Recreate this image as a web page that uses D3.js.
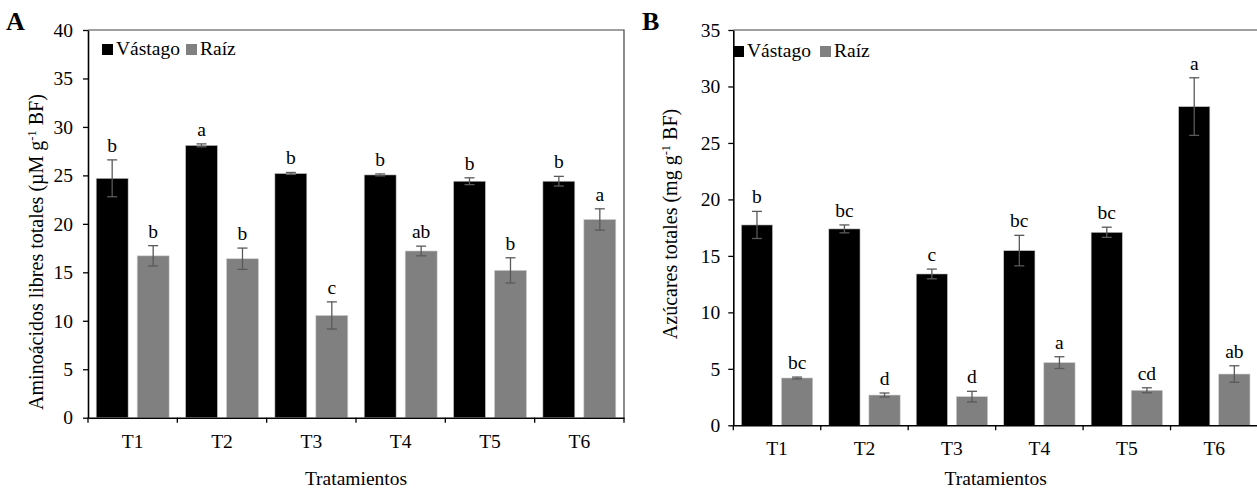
<!DOCTYPE html>
<html>
<head>
<meta charset="utf-8">
<script src="https://cdn.jsdelivr.net/npm/d3@7"></script>
<style>
  html, body { margin: 0; padding: 0; background: #fff; }
  svg { display: block; }
  text { font-family: "Liberation Serif", "Times New Roman", serif; fill: #000; }
</style>
</head>
<body>
<svg id="chart" width="1257" height="491"></svg>
<script>
const categories = ["T1", "T2", "T3", "T4", "T5", "T6"];
const seriesNames = ["Vástago", "Raíz"];
const seriesColors = ["#000000", "#808080"];

// Panel A: aminoácidos libres totales
const aminoShoot = [24.7, 28.1, 25.2, 25.05, 24.4, 24.4];
const aminoShootErr = [1.9, 0.15, 0.1, 0.1, 0.35, 0.5];
const aminoRoot = [16.7, 16.4, 10.55, 17.2, 15.2, 20.45];
const aminoRootErr = [1.05, 1.1, 1.4, 0.5, 1.3, 1.1];
const aminoShootLetters = ["b", "a", "b", "b", "b", "b"];
const aminoRootLetters = ["b", "b", "c", "ab", "b", "a"];
const aminoTicks = [0, 5, 10, 15, 20, 25, 30, 35, 40];

// Panel B: azúcares totales
const sugarShoot = [17.74, 17.39, 13.4, 15.47, 17.09, 28.22];
const sugarShootErr = [1.2, 0.35, 0.43, 1.35, 0.45, 2.55];
const sugarRoot = [4.19, 2.68, 2.54, 5.55, 3.1, 4.54];
const sugarRootErr = [0.08, 0.18, 0.47, 0.52, 0.22, 0.73];
const sugarShootLetters = ["b", "bc", "c", "bc", "bc", "a"];
const sugarRootLetters = ["bc", "d", "d", "a", "cd", "ab"];
const sugarTicks = [0, 5, 10, 15, 20, 25, 30, 35];

const svg = d3.select("#chart");
const FS = 19.5;
const FONT = "Liberation Serif, Times New Roman, serif";

function drawPanel(cfg) {
  const g = svg.append("g");
  const x = d3.scaleBand().domain(categories).range([cfg.left, cfg.right]).padding(0);
  const xs = d3.scaleBand().domain(seriesNames).range([0, x.bandwidth()])
    .paddingInner(0.22).paddingOuter(0.2);
  const y = d3.scaleLinear().domain([0, cfg.max]).range([cfg.bottom, cfg.top]);

  // frame (top & right)
  g.append("path")
    .attr("d", `M${cfg.left},${cfg.top}H${cfg.right}V${cfg.bottom}`)
    .attr("fill", "none").attr("stroke", "#404040").attr("stroke-width", 1.2);

  const series = [
    { name: seriesNames[0], vals: cfg.shoot, errs: cfg.shootErr, letters: cfg.shootLetters, color: seriesColors[0] },
    { name: seriesNames[1], vals: cfg.root, errs: cfg.rootErr, letters: cfg.rootLetters, color: seriesColors[1] }
  ];

  series.forEach(s => {
    const data = categories.map((c, i) => ({ c, v: s.vals[i], e: s.errs[i], l: s.letters[i] }));
    const cx = d => x(d.c) + xs(s.name) + xs.bandwidth() / 2;
    g.selectAll(null).data(data).join("rect")
      .attr("x", d => x(d.c) + xs(s.name))
      .attr("width", xs.bandwidth())
      .attr("y", d => y(d.v))
      .attr("height", d => y(0) - y(d.v))
      .attr("fill", s.color)
      .attr("stroke", "#d0d0d0").attr("stroke-width", 0.6);
    // error bars
    const eb = g.selectAll(null).data(data).join("g").attr("stroke", "#595959").attr("stroke-width", 1.3);
    eb.append("line").attr("x1", cx).attr("x2", cx).attr("y1", d => y(d.v + d.e)).attr("y2", d => y(d.v - d.e));
    eb.append("line").attr("x1", d => cx(d) - 5).attr("x2", d => cx(d) + 5).attr("y1", d => y(d.v + d.e)).attr("y2", d => y(d.v + d.e));
    eb.append("line").attr("x1", d => cx(d) - 5).attr("x2", d => cx(d) + 5).attr("y1", d => y(d.v - d.e)).attr("y2", d => y(d.v - d.e));
    // letters
    g.selectAll(null).data(data).join("text")
      .attr("x", cx).attr("y", d => y(d.v + d.e) - 8)
      .attr("text-anchor", "middle").attr("font-size", FS)
      .text(d => d.l);
  });

  // y axis
  const ya = g.append("g").attr("transform", `translate(${cfg.left},0)`)
    .call(d3.axisLeft(y).tickValues(cfg.ticks).tickSize(5).tickPadding(cfg.yPad).tickSizeOuter(0));
  ya.select(".domain").attr("stroke", "#000").attr("stroke-width", 1.6);
  ya.selectAll(".tick line").attr("stroke", "#000").attr("stroke-width", 1.3);
  ya.selectAll("text").attr("font-size", FS).attr("font-family", FONT);

  // x axis
  const xa = g.append("g").attr("transform", `translate(0,${cfg.bottom})`)
    .call(d3.axisBottom(x).tickSize(0).tickPadding(16).tickSizeOuter(0));
  xa.select(".domain").attr("stroke", "#000").attr("stroke-width", 1.6);
  xa.selectAll("text").attr("font-size", FS).attr("font-family", FONT);
  const bounds = categories.map(c => x(c)).concat([x(categories[categories.length - 1]) + x.bandwidth()]);
  g.selectAll(null).data(bounds).join("line")
    .attr("x1", d => d).attr("x2", d => d)
    .attr("y1", cfg.bottom).attr("y2", cfg.bottom + 5)
    .attr("stroke", "#000").attr("stroke-width", 1.3);

  // x title
  g.append("text").attr("x", (cfg.left + cfg.right) / 2).attr("y", 485)
    .attr("text-anchor", "middle").attr("font-size", FS).text("Tratamientos");
  // y title
  const yt = g.append("text")
    .attr("transform", `translate(${cfg.ytX},${cfg.ytY}) rotate(-90)`)
    .attr("text-anchor", "middle").attr("font-size", 20);
  yt.append("tspan").text(cfg.yTitle[0]);
  yt.append("tspan").attr("font-size", 12.5).attr("dy", -7).text("-1");
  yt.append("tspan").attr("dy", 7).text(cfg.yTitle[1]);

  // panel label
  g.append("text").attr("x", cfg.labelX).attr("y", 30)
    .attr("font-size", 26).attr("font-weight", "bold").text(cfg.label);

  // legend
  const lg = g.append("g");
  lg.append("rect").attr("x", cfg.legX).attr("y", cfg.legY - 5).attr("width", 11).attr("height", 11).attr("fill", seriesColors[0]);
  lg.append("text").attr("x", cfg.legX + 14).attr("y", cfg.legY + 6).attr("font-size", FS).text(seriesNames[0]);
  lg.append("rect").attr("x", cfg.legX2).attr("y", cfg.legY - 5).attr("width", 11).attr("height", 11).attr("fill", seriesColors[1]);
  lg.append("text").attr("x", cfg.legX2 + 14).attr("y", cfg.legY + 6).attr("font-size", FS).text(seriesNames[1]);
}

drawPanel({
  left: 88, right: 624, top: 30, bottom: 417.7, max: 40, ticks: aminoTicks, yPad: 10,
  shoot: aminoShoot, shootErr: aminoShootErr, root: aminoRoot, rootErr: aminoRootErr,
  shootLetters: aminoShootLetters, rootLetters: aminoRootLetters,
  yTitle: ["Aminoácidos libres totales (µM g", " BF)"], ytX: 43, ytY: 252,
  label: "A", labelX: 6, legX: 102, legX2: 186, legY: 49
});

drawPanel({
  left: 733.3, right: 1258, top: 30, bottom: 425.3, max: 35, ticks: sugarTicks, yPad: 8,
  shoot: sugarShoot, shootErr: sugarShootErr, root: sugarRoot, rootErr: sugarRootErr,
  shootLetters: sugarShootLetters, rootLetters: sugarRootLetters,
  yTitle: ["Azúcares totales (mg g", " BF)"], ytX: 677, ytY: 224,
  label: "B", labelX: 642, legX: 733, legX2: 820, legY: 51
});
</script>
</body>
</html>
